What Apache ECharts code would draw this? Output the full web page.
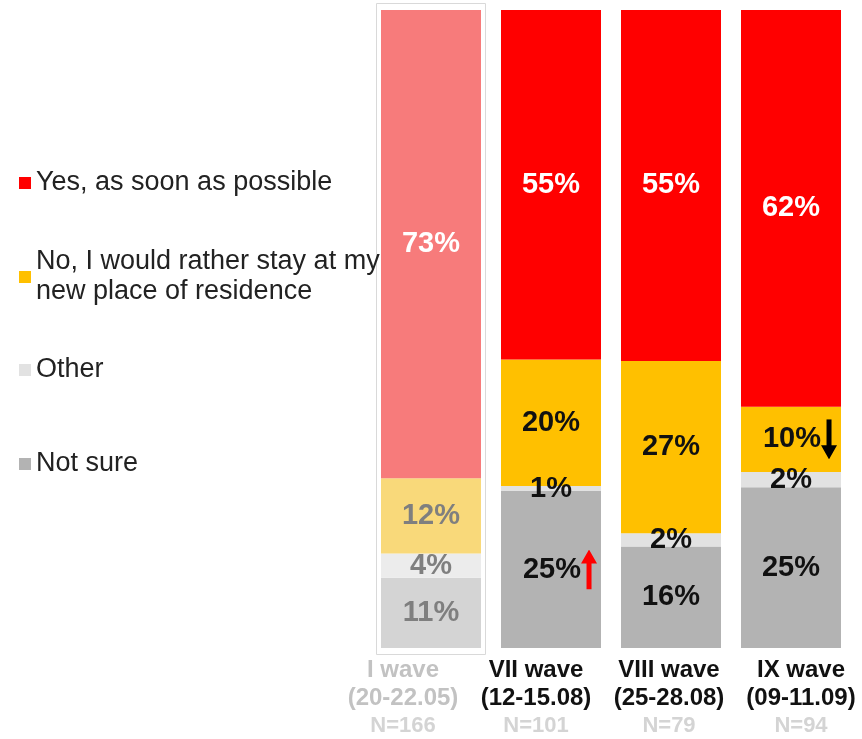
<!DOCTYPE html>
<html>
<head>
<meta charset="utf-8">
<script src="https://cdn.jsdelivr.net/npm/echarts@6/dist/echarts.min.js"></script>
<style>
  html, body { margin: 0; padding: 0; background: #fff; }
  #chart { width: 862px; height: 739px; }
</style>
</head>
<body>
<div id="chart"></div>
<script>
// survey waves
const categories = ['I wave', 'VII wave', 'VIII wave', 'IX wave']
const periods = ['(20-22.05)', '(12-15.08)', '(25-28.08)', '(09-11.09)']
const sampleSizes = ['N=166', 'N=101', 'N=79', 'N=94']

// answer shares, %
const yesValues = [73.4, 54.8, 55.0, 62.2]
const noValues = [11.8, 19.8, 27.0, 10.2]
const otherValues = [3.8, 0.8, 2.1, 2.4]
const notSureValues = [11.0, 24.6, 15.9, 25.2]

// change markers next to labels
const noTrend = ['', '', '', 'down']
const notSureTrend = ['', 'up', '', '']

// axis captions are not centred under bars in the original slide (px shift)
const captionShift = [-28, -15, -2, 10]

const FONT = 'Liberation Sans, Arial, sans-serif'

// filled arrow glyphs as small svg images
const arrowSvg = (color, down) => {
  const pts = down
    ? '8,40 16,26 10.5,26 10.5,0 5.5,0 5.5,26 0,26'
    : '8,0 16,14 10.5,14 10.5,40 5.5,40 5.5,14 0,14'
  const svg = '<svg xmlns="http://www.w3.org/2000/svg" width="16" height="40" viewBox="0 0 16 40">' +
    '<polygon points="' + pts + '" fill="' + color + '"/></svg>'
  return 'data:image/svg+xml;charset=utf-8,' + encodeURIComponent(svg)
}

const chart = echarts.init(document.getElementById('chart'))

// first wave is drawn faded
const makeData = (values, color, faded, labelColor, fadedLabel) =>
  values.map((v, i) => ({
    value: v,
    itemStyle: { color: i === 0 ? faded : color },
    label: { color: i === 0 ? fadedLabel : labelColor }
  }))

const makeLabel = (trend) => ({
  show: true,
  position: 'inside',
  fontFamily: FONT,
  fontSize: 29,
  fontWeight: 'bold',
  formatter: (p) => {
    const txt = Math.round(p.value) + '%'
    const t = trend ? trend[p.dataIndex] : ''
    if (t) return '{sp|}{v|' + txt + '}{' + t + '|}'
    return '{v|' + txt + '}'
  },
  rich: {
    v: { fontFamily: FONT, fontSize: 29, fontWeight: 'bold', verticalAlign: 'middle' },
    sp: { width: 18, height: 40 },
    up: { width: 16, height: 40, backgroundColor: { image: arrowSvg('#ff0000', false) } },
    down: { width: 16, height: 40, backgroundColor: { image: arrowSvg('#000000', true) } }
  }
})

// axis caption styles, one set per category
const captionRich = {}
captionShift.forEach((s, i) => {
  const pad = [0, s < 0 ? -2 * s : 0, 0, s > 0 ? 2 * s : 0]
  const faded = i === 0
  captionRich['t' + i] = { fontFamily: FONT, fontSize: 24, fontWeight: 'bold', color: faded ? '#c2c2c2' : '#111', lineHeight: 28, padding: pad }
  captionRich['d' + i] = { fontFamily: FONT, fontSize: 24, fontWeight: 'bold', color: faded ? '#c2c2c2' : '#111', lineHeight: 28, padding: pad }
  captionRich['n' + i] = { fontFamily: FONT, fontSize: 22, fontWeight: 'bold', color: '#d4d4d4', lineHeight: 28, padding: pad }
})

const legendText = { fontFamily: FONT, fontSize: 27, color: '#222', lineHeight: 30 }
const legendBase = {
  orient: 'vertical',
  left: 19,
  padding: 0,
  icon: 'rect',
  itemWidth: 12,
  itemHeight: 12,
  selectedMode: false,
  textStyle: legendText
}

const option = {
  animation: false,
  legend: [
    { ...legendBase, top: 168, data: ['Yes, as soon as possible'] },
    {
      ...legendBase,
      top: 232,
      data: ['No, I would rather stay at my\nnew place of residence'],
      textStyle: { ...legendText, padding: [30, 0, 0, 0] }
    },
    { ...legendBase, top: 355, data: ['Other'] },
    { ...legendBase, top: 449, data: ['Not sure'] }
  ],
  grid: {
    left: 371,
    right: 11,
    top: 10,
    bottom: 91
  },
  xAxis: {
    type: 'category',
    data: categories,
    axisLine: { show: false },
    axisTick: { show: false },
    axisLabel: {
      margin: 8,
      interval: 0,
      formatter: (value, index) =>
        '{t' + index + '|' + value + '}\n{d' + index + '|' + periods[index] + '}\n{n' + index + '|' + sampleSizes[index] + '}',
      rich: captionRich
    }
  },
  yAxis: {
    type: 'value',
    min: 0,
    max: 100,
    show: false
  },
  series: [
    {
      name: 'Not sure',
      type: 'bar',
      stack: 'total',
      barWidth: 100,
      color: '#b3b3b3',
      label: makeLabel(notSureTrend),
      data: makeData(notSureValues, '#b3b3b3', '#d4d4d4', '#111', '#7f7f7f')
    },
    {
      name: 'Other',
      type: 'bar',
      stack: 'total',
      barWidth: 100,
      color: '#e2e2e2',
      label: makeLabel(null),
      data: makeData(otherValues, '#e2e2e2', '#ececec', '#111', '#7f7f7f')
    },
    {
      name: 'No, I would rather stay at my\nnew place of residence',
      type: 'bar',
      stack: 'total',
      barWidth: 100,
      color: '#ffc000',
      label: makeLabel(noTrend),
      data: makeData(noValues, '#ffc000', '#f9d97a', '#111', '#7f7f7f')
    },
    {
      name: 'Yes, as soon as possible',
      type: 'bar',
      stack: 'total',
      barWidth: 100,
      color: '#ff0000',
      label: makeLabel(null),
      data: makeData(yesValues, '#ff0000', '#f77b7b', '#fff', '#fff')
    }
  ]
}

chart.setOption(option)

// thin frame around the faded first wave
const cx = chart.convertToPixel({ xAxisIndex: 0 }, categories[0])
const yTop = chart.convertToPixel({ yAxisIndex: 0 }, 100)
const yBottom = chart.convertToPixel({ yAxisIndex: 0 }, 0)
chart.setOption({
  graphic: [{
    type: 'rect',
    shape: { x: cx - 54.5, y: yTop - 6.5, width: 109, height: yBottom - yTop + 13 },
    style: { fill: 'none', stroke: '#d9d9d9', lineWidth: 1 },
    z: 0
  }]
})

window.addEventListener('resize', () => chart.resize())
</script>
</body>
</html>
